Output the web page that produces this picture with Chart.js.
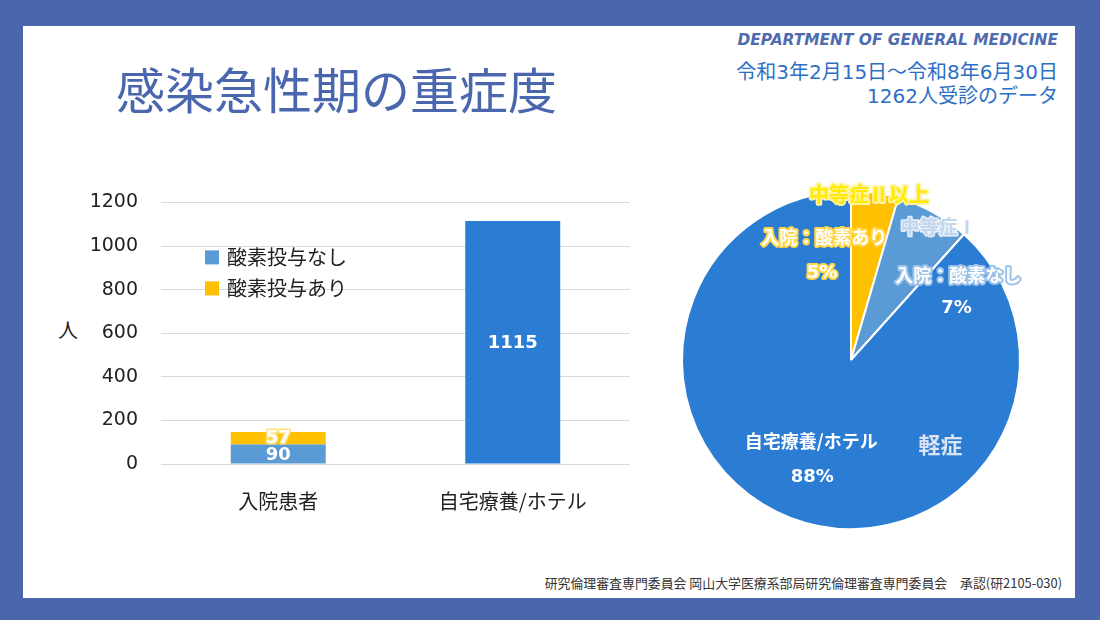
<!DOCTYPE html>
<html>
<head>
  <meta charset="UTF-8">
  <style>
    body { margin: 0; width: 1100px; height: 620px; background: #4a66ac; position: relative; overflow: hidden; }
    .sheet { position: absolute; left: 23px; top: 26px; width: 1052px; height: 572px; background: #fff; }
    .txt { position: absolute; white-space: nowrap; }
    #title { left: 116px; top: 58px; font: 400 49px "Noto Sans CJK JP", sans-serif; color: #4a67ae; line-height: 60px; }
    #dept { right: 42px; top: 31px; font: italic bold 15.4px "DejaVu Sans", sans-serif; color: #4f6bb0; }
    #period, #count { right: 42px; font: 400 20px "DejaVu Sans", "Noto Sans CJK JP", sans-serif; color: #2e6fc6; line-height: 24px; }
    #period { top: 60px; }
    #count { top: 84px; }
    #ylab { left: 58px; top: 315px; font: 400 20px "Noto Sans CJK JP", sans-serif; color: #222; }
    #footer { right: 38px; top: 573px; font: 400 12.9px "Noto Sans CJK JP", sans-serif; color: #333; }
    #barWrap { position: absolute; left: 40px; top: 168px; width: 620px; height: 352px; }
    #pieWrap { position: absolute; left: 671px; top: 180px; width: 360px; height: 360px; }
  </style>
  <script src="https://cdn.jsdelivr.net/npm/chart.js@4.4.0/dist/chart.umd.min.js"></script>
</head>
<body>
<div class="sheet"></div>
<div class="txt" id="title">感染急性期の重症度</div>
<div class="txt" id="dept">DEPARTMENT OF GENERAL MEDICINE</div>
<div class="txt" id="period">令和3年2月15日～令和8年6月30日</div>
<div class="txt" id="count">1262人受診のデータ</div>
<div class="txt" id="ylab">人</div>
<div class="txt" id="footer">研究倫理審査専門委員会 岡山大学医療系部局研究倫理審査専門委員会　承認(研2105-030)</div>
<div id="barWrap"><canvas id="barChart" width="620" height="352"></canvas></div>
<div id="pieWrap"><canvas id="pieChart" width="360" height="360"></canvas></div>

<script>
  // bar chart data
  const categories = ['入院患者', '自宅療養/ホテル'];
  const noOxygen = [90, 1115];
  const withOxygen = [57, null];
  const seriesNames = ['酸素投与なし', '酸素投与あり'];
  const yTicks = [0, 200, 400, 600, 800, 1000, 1200];

  // pie data (clockwise from top)
  const pieValues = [57, 90, 1115];
  const pieGroups = ['中等症Ⅱ以上', '中等症Ⅰ', '軽症'];
  const pieNames = ['入院：酸素あり', '入院：酸素なし', '自宅療養/ホテル'];

  const LIGHT = '#5b9bd5', DARK = '#2b7cd3', ORANGE = '#ffc000';
  const NUMFONT = '"DejaVu Sans", "Noto Sans CJK JP", sans-serif';
  const JPFONT = '"Noto Sans CJK JP", sans-serif';

  Chart.defaults.font.family = NUMFONT;
  Chart.defaults.color = '#222';

  function outlined(ctx, text, x, y, font, fill, stroke, lw) {
    ctx.font = font;
    ctx.textAlign = 'center';
    ctx.textBaseline = 'middle';
    if (stroke) {
      ctx.lineJoin = 'round';
      ctx.lineWidth = lw || 3;
      ctx.strokeStyle = stroke;
      ctx.strokeText(text, x, y);
    }
    ctx.fillStyle = fill;
    ctx.fillText(text, x, y);
  }

  const barLabels = {
    id: 'barLabels',
    afterDatasetsDraw(chart) {
      const ctx = chart.ctx;
      ctx.save();
      chart.data.datasets.forEach((ds, di) => {
        chart.getDatasetMeta(di).data.forEach((bar, i) => {
          const v = ds.data[i];
          if (v == null) return;
          const y = (bar.y + bar.base) / 2;
          if (di === 1) outlined(ctx, String(v), bar.x, y, 'bold 18px ' + NUMFONT, '#fff', '#ffe27a', 3);
          else outlined(ctx, String(v), bar.x, y + 1, 'bold 18px ' + NUMFONT, '#fff');
        });
      });
      // legend inside plot
      const a = chart.chartArea;
      const colors = [LIGHT, ORANGE];
      seriesNames.forEach((name, i) => {
        const ly = a.top + 55 + i * 31;
        ctx.fillStyle = colors[i];
        ctx.fillRect(a.left + 44, ly - 7, 14, 14);
        ctx.font = '20px ' + JPFONT;
        ctx.textAlign = 'left';
        ctx.textBaseline = 'middle';
        ctx.fillStyle = '#222';
        ctx.fillText(name, a.left + 66, ly);
      });
      ctx.restore();
    }
  };

  new Chart(document.getElementById('barChart'), {
    type: 'bar',
    data: {
      labels: categories,
      datasets: [
        { label: seriesNames[0], data: noOxygen, backgroundColor: [LIGHT, DARK] },
        { label: seriesNames[1], data: withOxygen, backgroundColor: ORANGE }
      ]
    },
    options: {
      responsive: false,
      animation: false,
      layout: { padding: { top: 32, right: 30, left: 0, bottom: 0 } },
      barPercentage: 0.405,
      categoryPercentage: 1,
      plugins: { legend: { display: false }, tooltip: { enabled: false } },
      scales: {
        x: {
          stacked: true,
          grid: { display: false },
          border: { display: false },
          ticks: { font: { size: 20, family: JPFONT }, color: '#222', padding: 17 },
          afterFit(s) { s.height = 56; }
        },
        y: {
          stacked: true,
          min: 0, max: 1200,
          afterBuildTicks(s) { s.ticks = yTicks.map(v => ({ value: v })); },
          grid: { color: '#d9d9d9', lineWidth: 1, drawTicks: false },
          border: { display: false },
          ticks: { font: { size: 19 }, color: '#222', padding: 23, callback: v => String(v) },
          afterFit(s) { s.width = 121; }
        }
      }
    },
    plugins: [barLabels]
  });

  // pie labels: placed relative to pie centre in units of radius
  const pieLabelSpots = [
    { text: () => pieGroups[0], dx: 0.106, dy: -0.982, font: 'bold 20px ' + JPFONT, fill: '#ffea00', stroke: '#fff3a6', lw: 4 },
    { text: () => pieNames[0], dx: -0.159, dy: -0.724, font: 'bold 18px ' + JPFONT, fill: '#fff', stroke: '#ffd54a', lw: 4 },
    { text: () => pct(0), dx: -0.171, dy: -0.512, font: 'bold 18px ' + NUMFONT, fill: '#fff', stroke: '#ffd54a', lw: 4 },
    { text: () => pieGroups[1], dx: 0.518, dy: -0.788, font: 'bold 19px ' + JPFONT, fill: '#c4d5ee', stroke: 'rgba(255,255,255,0.85)', lw: 3 },
    { text: () => pieNames[1], dx: 0.635, dy: -0.5, font: 'bold 18px ' + JPFONT, fill: '#fff', stroke: '#9cc3e8', lw: 4 },
    { text: () => pct(1), dx: 0.624, dy: -0.306, font: 'bold 18px ' + NUMFONT, fill: '#fff', stroke: null },
    { text: () => pieNames[2], dx: -0.235, dy: 0.482, font: 'bold 18px ' + JPFONT, fill: '#fff', stroke: null },
    { text: () => pct(2), dx: -0.229, dy: 0.694, font: 'bold 18px ' + NUMFONT, fill: '#fff', stroke: null },
    { text: () => pieGroups[2], dx: 0.529, dy: 0.5, font: 'bold 22px ' + JPFONT, fill: '#dce4f4', stroke: null }
  ];
  const pieTotal = pieValues.reduce((a, b) => a + b, 0);
  function pct(i) { return Math.round(pieValues[i] / pieTotal * 100) + '%'; }

  const pieLabels = {
    id: 'pieLabels',
    afterDatasetsDraw(chart) {
      const arc = chart.getDatasetMeta(0).data[0];
      const cx = arc.x, cy = arc.y, r = arc.outerRadius;
      const ctx = chart.ctx;
      ctx.save();
      pieLabelSpots.forEach(s => outlined(ctx, s.text(), cx + s.dx * r, cy + s.dy * r, s.font, s.fill, s.stroke, s.lw));
      ctx.restore();
    }
  };

  new Chart(document.getElementById('pieChart'), {
    type: 'pie',
    data: {
      labels: pieNames,
      datasets: [{ data: pieValues, backgroundColor: [ORANGE, LIGHT, DARK], borderColor: '#fff', borderWidth: 2 }]
    },
    options: {
      responsive: false,
      animation: false,
      layout: { padding: 10 },
      plugins: { legend: { display: false }, tooltip: { enabled: false } }
    },
    plugins: [pieLabels]
  });
</script>
</body>
</html>
